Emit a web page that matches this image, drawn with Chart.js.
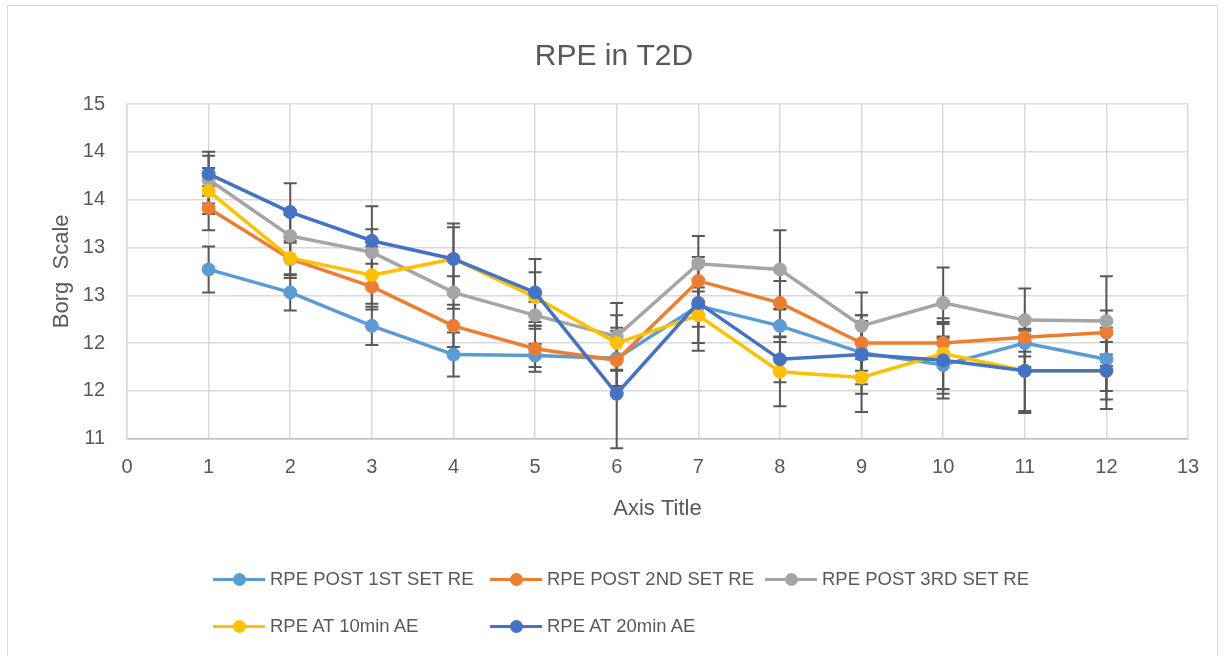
<!DOCTYPE html>
<html>
<head>
<meta charset="utf-8">
<script src="https://cdn.jsdelivr.net/npm/chart.js@4.4.1/dist/chart.umd.min.js"></script>
<style>
    html, body { margin: 0; padding: 0; background: #ffffff; }
    #wrap { position: relative; width: 1228px; height: 656px; overflow: hidden; }
    #frame { position: absolute; left: 7px; top: 5px; width: 1211px; height: 660px; border: 1px solid #d9d9d9; box-sizing: border-box; }
    #chart { position: absolute; left: 0; top: 0; }
    .lg-item { position: absolute; height: 20px; display: flex; align-items: center; font-family: "Liberation Sans", Arial, sans-serif; font-size: 18.5px; color: #595959; white-space: nowrap; }
    .lg-line { position: relative; width: 52px; height: 3px; margin-right: 5px; }
    .lg-dot { position: absolute; left: 20px; top: -5px; width: 13px; height: 13px; border-radius: 50%; }
</style>
</head>
<body>
<div id="wrap">
    <div id="frame"></div>
    <canvas id="chart" width="1228" height="656"></canvas>
    <div id="legend"></div>
</div>
<script>
// 横轴位置（组别）
const xValues = [1, 2, 3, 4, 5, 6, 7, 8, 9, 10, 11, 12];

// 各组 RPE 数值
const post1stRE = [12.77, 12.53, 12.18, 11.88, 11.87, 11.84, 12.39, 12.18, 11.90, 11.77, 12.00, 11.83];
const post2ndRE = [13.41, 12.88, 12.59, 12.18, 11.94, 11.82, 12.65, 12.42, 12.00, 12.00, 12.06, 12.11];
const post3rdRE = [13.71, 13.12, 12.95, 12.53, 12.29, 12.07, 12.83, 12.77, 12.18, 12.42, 12.24, 12.23];
const at10minAE = [13.59, 12.89, 12.71, 12.88, 12.48, 12.00, 12.29, 11.70, 11.64, 11.89, 11.71, 11.71];
const at20minAE = [13.77, 13.37, 13.07, 12.88, 12.53, 11.47, 12.42, 11.83, 11.88, 11.82, 11.71, 11.71];

// 误差线（±）
const err1stRE = [0.24, 0.19, 0.20, 0.23, 0.12, 0.29, 0.47, 0.17, 0.33, 0.30, 0.25, 0.33];
const err2ndRE = [0.23, 0.17, 0.24, 0.22, 0.24, 0.34, 0.25, 0.23, 0.29, 0.20, 0.20, 0.23];
const err3rdRE = [0.25, 0.22, 0.24, 0.17, 0.14, 0.35, 0.29, 0.41, 0.35, 0.37, 0.33, 0.47];
const err10min = [0.24, 0.21, 0.30, 0.33, 0.26, 0.29, 0.29, 0.36, 0.36, 0.37, 0.44, 0.30];
const err20min = [0.23, 0.30, 0.36, 0.37, 0.35, 0.57, 0.25, 0.24, 0.41, 0.40, 0.42, 0.40];

// Y轴刻度文字（Excel 取整后的显示）
const yTickLabels = ['11', '12', '12', '13', '13', '14', '14', '15'];

const seriesNames = ['RPE POST 1ST SET RE', 'RPE POST 2ND SET RE', 'RPE POST 3RD SET RE', 'RPE AT 10min AE', 'RPE AT 20min AE'];
const seriesColors = ['#5B9BD5', '#ED7D31', '#A5A5A5', '#FFC000', '#4472C4'];
const seriesValues = [post1stRE, post2ndRE, post3rdRE, at10minAE, at20minAE];
const seriesErrors = [err1stRE, err2ndRE, err3rdRE, err10min, err20min];

const textColor = '#595959';
const fontFamily = '"Liberation Sans", Arial, sans-serif';

const datasets = seriesValues.map((vals, i) => ({
    label: seriesNames[i],
    data: vals.map((v, j) => ({ x: xValues[j], y: v })),
    errors: seriesErrors[i],
    borderColor: seriesColors[i],
    backgroundColor: seriesColors[i],
    pointBackgroundColor: seriesColors[i],
    pointBorderColor: seriesColors[i],
    borderWidth: 3.5,
    pointRadius: 6.5,
    pointBorderWidth: 1,
    tension: 0,
    order: seriesValues.length - i
}));

// 误差线插件：在折线之前绘制
const errorBarPlugin = {
    id: 'errorBars',
    beforeDatasetsDraw(chart) {
        const ctx = chart.ctx;
        const xs = chart.scales.x;
        const ys = chart.scales.y;
        ctx.save();
        ctx.strokeStyle = '#595959';
        ctx.lineWidth = 2;
        chart.data.datasets.forEach(ds => {
            ds.data.forEach((p, j) => {
                const e = ds.errors[j];
                const px = xs.getPixelForValue(p.x);
                const top = ys.getPixelForValue(p.y + e);
                const bot = ys.getPixelForValue(p.y - e);
                ctx.beginPath();
                ctx.moveTo(px, top);
                ctx.lineTo(px, bot);
                ctx.moveTo(px - 6.5, top);
                ctx.lineTo(px + 6.5, top);
                ctx.moveTo(px - 6.5, bot);
                ctx.lineTo(px + 6.5, bot);
                ctx.stroke();
            });
        });
        ctx.restore();
    }
};

new Chart(document.getElementById('chart').getContext('2d'), {
    type: 'line',
    data: { datasets: datasets },
    plugins: [errorBarPlugin],
    options: {
        responsive: false,
        animation: false,
        layout: { padding: { left: 40, right: 40, top: 0, bottom: 117.3 } },
        plugins: {
            legend: { display: false },
            tooltip: { enabled: false },
            title: {
                display: true,
                text: 'RPE in T2D',
                color: textColor,
                font: { family: fontFamily, size: 30, weight: 'normal' },
                padding: { top: 39, bottom: 29 }
            }
        },
        scales: {
            x: {
                type: 'linear',
                min: 0,
                max: 13,
                ticks: { stepSize: 1, color: textColor, font: { family: fontFamily, size: 20 }, padding: 17 },
                grid: { color: '#d9d9d9', lineWidth: 1.5, drawTicks: false },
                border: { color: '#bfbfbf', width: 1.5 },
                title: {
                    display: true,
                    text: 'Axis Title',
                    color: textColor,
                    font: { family: fontFamily, size: 22 },
                    padding: { top: 0, bottom: 16.5 }
                },
                afterFit(scale) { scale.height = 100; }
            },
            y: {
                min: 11,
                max: 14.5,
                ticks: {
                    stepSize: 0.5,
                    color: textColor,
                    font: { family: fontFamily, size: 20 },
                    padding: 22,
                    callback: function (value, index) { return yTickLabels[index]; }
                },
                grid: { color: '#d9d9d9', lineWidth: 1.5, drawTicks: false },
                border: { color: '#d9d9d9', width: 1.5 },
                title: {
                    display: true,
                    text: 'Borg  Scale',
                    color: textColor,
                    font: { family: fontFamily, size: 22 },
                    padding: { top: 8.8, bottom: 0 }
                },
                afterFit(scale) { scale.width = 87; }
            }
        }
    }
});

// 图例（两行，按 Excel 的网格排布）
const legendPos = [[213, 579], [490, 579], [765, 579], [213, 626], [490, 626]];
const legendBox = document.getElementById('legend');
seriesNames.forEach((name, i) => {
    const item = document.createElement('div');
    item.className = 'lg-item';
    item.style.left = legendPos[i][0] + 'px';
    item.style.top = (legendPos[i][1] - 10) + 'px';
    item.innerHTML = '<div class="lg-line" style="background:' + seriesColors[i] + '">' +
        '<div class="lg-dot" style="background:' + seriesColors[i] + '"></div></div>' +
        '<span>' + name + '</span>';
    legendBox.appendChild(item);
});
</script>
</body>
</html>
